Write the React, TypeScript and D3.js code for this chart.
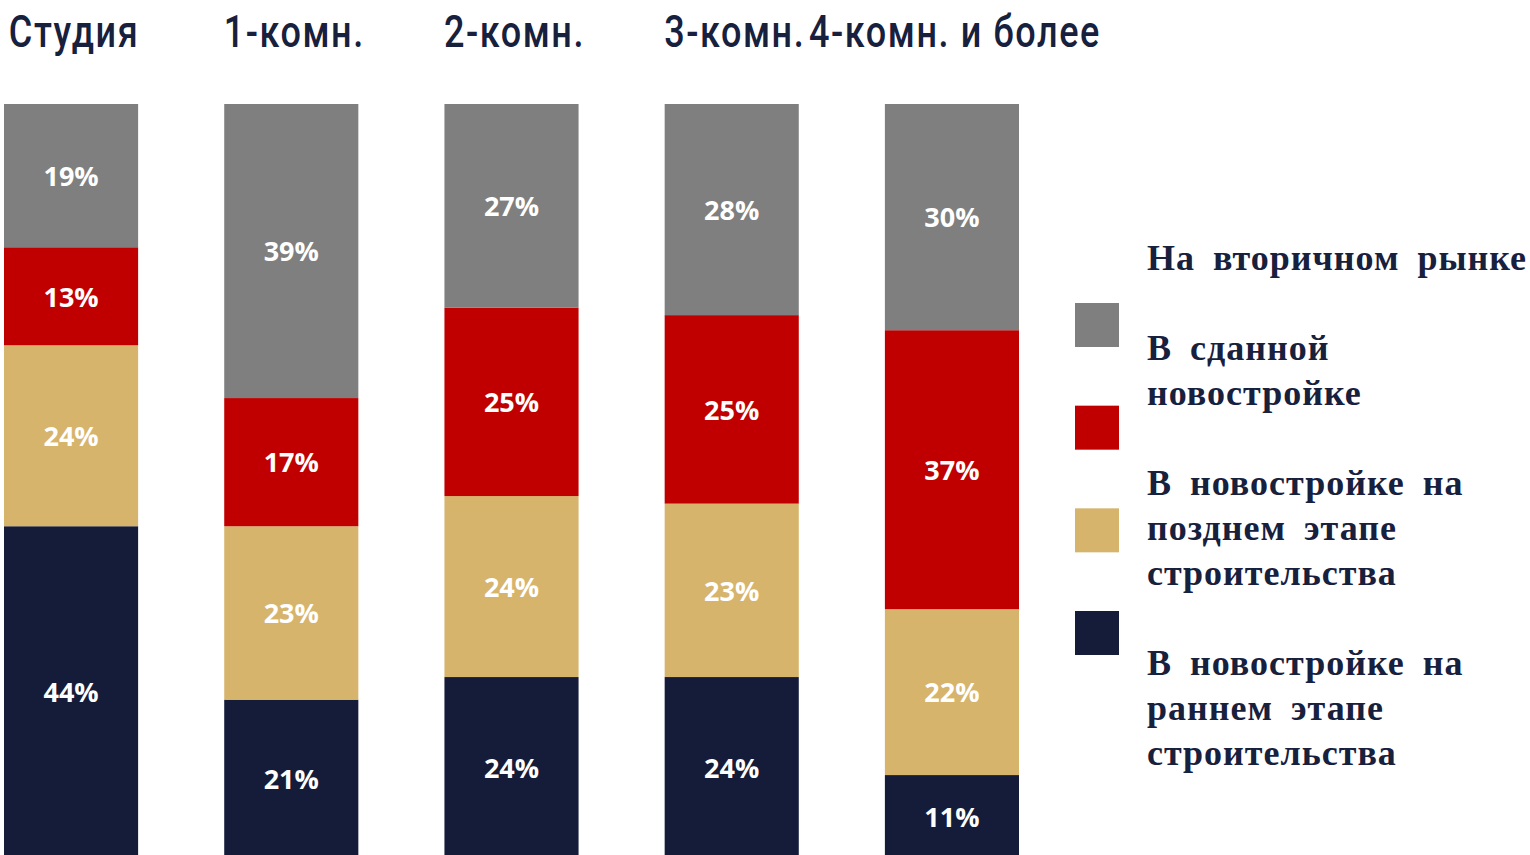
import React, { useEffect } from "react";
import * as d3 from "d3";

const categories = ["Студия", "1-комн.", "2-комн.", "3-комн.", "4-комн. и более"];
const early = [44, 21, 24, 24, 11];
const late = [24, 23, 24, 23, 22];
const completed = [13, 17, 25, 25, 37];
const secondary = [19, 39, 27, 28, 30];

const seriesKeys = ["early", "late", "completed", "secondary"];
const seriesColors: Record<string, string> = {
  early: "#141c3a",
  late: "#d6b46c",
  completed: "#c00000",
  secondary: "#7f7f7f",
};
const legendOrder = ["secondary", "completed", "late", "early"];
const legendLines: Record<string, string[]> = {
  secondary: ["На вторичном рынке"],
  completed: ["В сданной", "новостройке"],
  late: ["В новостройке на", "позднем этапе", "строительства"],
  early: ["В новостройке на", "раннем этапе", "строительства"],
};

const W = 1530;
const H = 855;
const TEXT = "#17203d";

export default function App() {
  useEffect(() => {
    document.body.style.margin = "0";
    document.body.style.overflow = "hidden";
  }, []);

  const rows = categories.map((c, i) => ({
    cat: c,
    early: early[i],
    late: late[i],
    completed: completed[i],
    secondary: secondary[i],
  }));
  const stack = d3.stack<any>().keys(seriesKeys)(rows);

  const x = d3
    .scaleBand<string>()
    .domain(categories)
    .range([4, 1019])
    .paddingInner(0.391)
    .paddingOuter(0);
  const y = d3.scaleLinear().domain([0, 100]).range([858, 104]);

  const labelSize = 27;

  // legend
  const legendX = 1147;
  const squareX = 1075;
  const lineH = 45;
  const firstBaseline = 270;
  const sq = d3
    .scalePoint<string>()
    .domain(legendOrder)
    .range([303, 611]);

  let lineCount = 0;
  const legendItems = legendOrder.map((k, idx) => {
    const start = lineCount + idx;
    lineCount += legendLines[k].length;
    return { key: k, lines: legendLines[k], start };
  });

  return (
    <svg width={W} height={H} style={{ position: "absolute", left: 0, top: 0, display: "block" }}>
      <rect x={0} y={0} width={W} height={H} fill="#ffffff" />
      {categories.map((c) => (
        <text
          key={c}
          transform={`translate(${(x(c) as number) + x.bandwidth() / 2 + 3},47) scale(0.8,1)`}
          textAnchor="middle"
          fontFamily="Roboto"
          fontWeight={500}
          fontSize={45}
          letterSpacing={2}
          fill={TEXT}
        >
          {c}
        </text>
      ))}
      {stack.map((s) => (
        <g key={s.key} fill={seriesColors[s.key]}>
          {s.map((d, i) => (
            <rect
              key={i}
              x={x(categories[i])}
              y={y(d[1])}
              width={x.bandwidth()}
              height={y(d[0]) - y(d[1])}
            />
          ))}
        </g>
      ))}
      {stack.map((s) => (
        <g key={"l" + s.key}>
          {s.map((d, i) => (
            <text
              key={i}
              x={(x(categories[i]) as number) + x.bandwidth() / 2}
              y={(y(d[0]) + y(d[1])) / 2 + labelSize * 0.38}
              textAnchor="middle"
              fontFamily="Open Sans"
              fontWeight="bold"
              fontSize={labelSize}
              fill="#ffffff"
            >
              {`${d[1] - d[0]}%`}
            </text>
          ))}
        </g>
      ))}
      {legendItems.map((it) => (
        <g key={it.key}>
          <rect x={squareX} y={sq(it.key)} width={44} height={44} fill={seriesColors[it.key]} />
          {it.lines.map((ln, j) => (
            <text
              key={j}
              x={legendX}
              y={firstBaseline + lineH * (it.start + j)}
              fontFamily="Liberation Serif"
              fontWeight="bold"
              fontSize={36}
              letterSpacing={1}
              wordSpacing={8}
              fill={TEXT}
            >
              {ln}
            </text>
          ))}
        </g>
      ))}
    </svg>
  );
}
